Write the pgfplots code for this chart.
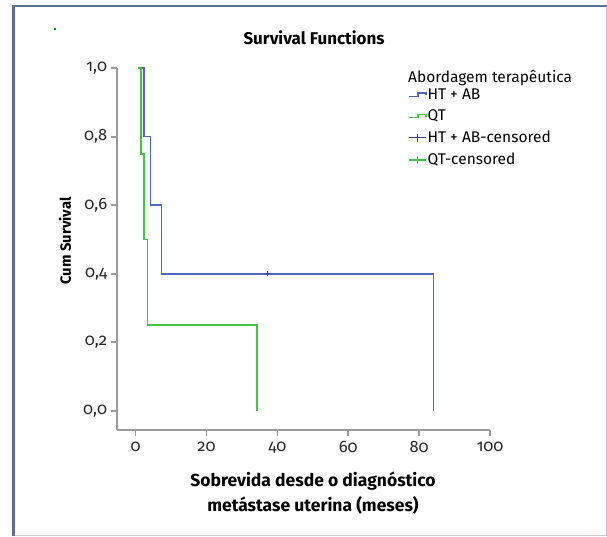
\documentclass[border=0pt]{standalone}
\usepackage{fontspec}
\setmainfont{Fira Sans}[Numbers=OldStyle]
\usepackage{pgfplots}
\pgfplotsset{compat=1.18}
\definecolor{kmBlue}{HTML}{4F66C6}
\definecolor{kmGreen}{HTML}{45C245}
\definecolor{kmCens}{HTML}{34449C}
\definecolor{frameDark}{HTML}{587490}
\definecolor{frameLight}{HTML}{AFBCCB}
\definecolor{axisGray}{HTML}{9A9A9A}

\begin{document}
\begin{tikzpicture}[x=1pt,y=1pt]
% page = 607 x 536 px, 1px = 1pt, y measured from the bottom
\fill[white] (0,0) rectangle (607,536);
\fill[frameDark] (12,0) rectangle (14.7,531.3);
\fill[frameDark] (12,528.7) rectangle (606.7,531.3);
\draw[frameLight,line width=1pt] (606,0) -- (606,529);
\draw[black!20,line width=1pt] (14.7,0.5) -- (606,0.5);
\fill[green!60!black] (54,506) rectangle (56,508);

\node[font=\fontsize{17}{20}\selectfont\bfseries] at (314,498) {Survival Functions};
\node[font=\fontsize{14.8}{17}\selectfont\bfseries,rotate=90] at (65,295) {Cum Survival};
\node[font=\fontsize{17.5}{24.3}\selectfont\bfseries,align=center] at (313,43)
  {Sobrevida desde o diagnóstico\\metástase uterina (meses)};
\node[font=\fontsize{15.5}{18}\selectfont,anchor=west,inner sep=0pt] at (408,458.3)
  {Abordagem terapêutica};

\begin{axis}[
  at={(116.7pt,106pt)}, anchor=south west,
  scale only axis, width=373.3pt, height=361.8pt,
  xmin=-5.36, xmax=100, ymin=-0.056, ymax=1.0,
  axis x line=bottom, axis y line=left,
  axis line style={-,axisGray,line width=2pt},
  xtick={0,20,40,60,80,100},
  ytick={0,0.2,0.4,0.6,0.8,1.0},
  yticklabels={{0,0},{0,2},{0,4},{0,6},{0,8},{1,0}},
  tick align=outside, major tick length=6pt,
  tick style={axisGray,line width=1.6pt},
  tick label style={font=\fontsize{16.5}{19}\selectfont,text=black!85},
  xticklabel style={yshift=-2pt},
  /pgf/number format/assume math mode=true,
  clip=false,
  legend style={draw=none,fill=none,inner sep=0pt,
    at={(rel axis cs:0.7803,0.9467)},anchor=north west,
    font=\fontsize{15.5}{18}\selectfont,row sep=7pt,
    nodes={inner sep=1pt}},
  legend cell align=left,
]
\addplot[kmBlue,line width=1.5pt,const plot,mark=none,
  legend image code/.code={\draw[kmBlue,line width=1.4pt] (0pt,-1.7pt) -- (9.3pt,-1.7pt) -- (9.3pt,1.7pt) -- (17pt,1.7pt) -- (17pt,-0.5pt);}]
  coordinates {(1.8,1.0) (2.4,0.8) (4.2,0.6) (7.3,0.4) (84.1,0.0)};
\addlegendentry{HT + AB}
\addplot[kmGreen,line width=1.5pt,const plot,mark=none,
  legend image code/.code={\draw[kmGreen,line width=1.4pt] (0pt,-1.7pt) -- (9.3pt,-1.7pt) -- (9.3pt,1.7pt) -- (17pt,1.7pt) -- (17pt,-0.5pt);}]
  coordinates {(0.56,1.0) (1.5,0.75) (2.34,0.5) (3.4,0.25) (34.2,0.0)};
\addlegendentry{QT}
\addplot[only marks,kmCens,mark=+,mark size=2.5pt,mark options={line width=1.2pt},
  legend image code/.code={\draw[kmCens,line width=1.3pt] (0pt,0pt) -- (17pt,0pt) (8.5pt,-4pt) -- (8.5pt,4pt);}]
  coordinates {(37.2,0.4)};
\addlegendentry{HT + AB-censored}
\addlegendimage{legend image code/.code={\draw[kmGreen,line width=1.3pt] (0pt,0pt) -- (17pt,0pt) (8.5pt,-4pt) -- (8.5pt,4pt);}}
\addlegendentry{QT-censored}
\end{axis}
\end{tikzpicture}
\end{document}
